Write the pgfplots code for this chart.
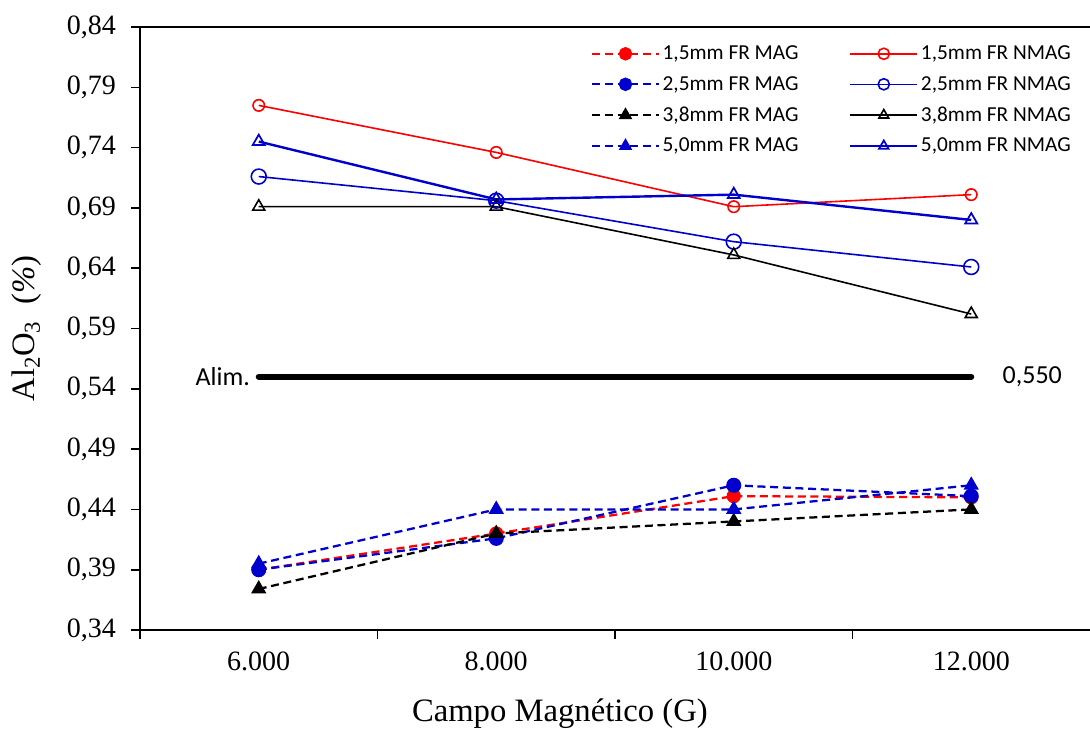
\documentclass[border=0pt]{standalone}
\usepackage{fontspec}
\setmainfont{Liberation Serif}
\newfontfamily\calfont{Carlito}
\usepackage{pgfplots}
\pgfplotsset{compat=1.18}
\definecolor{mblue}{RGB}{0,0,205}
\definecolor{mred}{RGB}{255,0,0}
\begin{document}
\begin{tikzpicture}[x=1pt,y=1pt]
\begin{axis}[
  at={(0,0)}, anchor=south west,
  scale only axis, width=712.5pt, height=452.25pt,
  xmin=-0.5, xmax=3.5, ymin=0.34, ymax=0.84,
  axis lines=left, axis line style={-, line width=1.4pt},
  tick style={line width=1.2pt, black},
  tick align=outside,
  major tick length=6.5pt,
  xtick={-0.5,0.5,1.5,2.5}, xticklabels={},
  extra x ticks={0,1,2,3}, extra x tick labels={6.000,8.000,10.000,12.000},
  extra x tick style={major tick length=0pt},
  ytick={0.34,0.39,0.44,0.49,0.54,0.59,0.64,0.69,0.74,0.79,0.84},
  yticklabel style={xshift=-8pt, /pgf/number format/fixed, /pgf/number format/fixed zerofill, /pgf/number format/precision=2, /pgf/number format/use comma, /pgf/number format/assume math mode=true},
  ticklabel style={font=\fontsize{21}{25}\selectfont},
  xticklabel style={yshift=-13pt},
  xlabel={Campo Magnético (G)},
  ylabel={Al\textsubscript{2}O\textsubscript{3}\ \ (\textit{\%})},
  label style={font=\fontsize{24.5}{29}\selectfont},
  xlabel style={at={(axis description cs:0.442,0)}, anchor=center, yshift=-63pt},
  ylabel style={at={(axis description cs:-0.119,0.5)}, anchor=center},
  clip=false,
  legend columns=2,
  legend style={draw=none, fill=none, at={(rel axis cs:0.987,0.978)}, anchor=north east,
    font=\calfont\fontsize{16}{19}\selectfont, row sep=7pt,
    /tikz/every even column/.append style={column sep=36pt}},
  legend cell align=left,
  legend image code/.code={
    \draw[#1, mark size=4.2pt, mark repeat=2, mark phase=2] plot coordinates {(0pt,0pt) (25pt,0pt) (50pt,0pt)};
  },
]
% 1,5 MAG
\addplot[mred, dash pattern=on 6pt off 3.5pt, line width=1.7pt, mark=*, mark size=4.5pt, mark options={solid, fill=mred}]
  coordinates {(0,0.390) (1,0.420) (2,0.451) (3,0.450)};
\addlegendentry{1,5mm FR MAG}
% 1,5 NMAG
\addplot[mred, line width=1.2pt, mark=o, mark size=4.3pt, mark options={solid, line width=1.2pt}]
  coordinates {(0,0.775) (1,0.736) (2,0.691) (3,0.701)};
\addlegendentry{1,5mm FR NMAG}
% 2,5 MAG
\addplot[mblue, dash pattern=on 6pt off 3.5pt, line width=1.7pt, mark=*, mark size=4.8pt, mark options={solid, fill=mblue}]
  coordinates {(0,0.390) (1,0.416) (2,0.460) (3,0.451)};
\addlegendentry{2,5mm FR MAG}
% 2,5 NMAG
\addplot[mblue, line width=1.2pt, mark=o, mark size=5.6pt, mark options={solid, line width=1.2pt}]
  coordinates {(0,0.716) (1,0.696) (2,0.662) (3,0.641)};
\addlegendentry{2,5mm FR NMAG}
% 3,8 MAG
\addplot[black, dash pattern=on 6pt off 3.5pt, line width=1.7pt, mark=triangle*, mark size=5pt, mark options={solid, fill=black}]
  coordinates {(0,0.374) (1,0.420) (2,0.430) (3,0.440)};
\addlegendentry{3,8mm FR MAG}
% 3,8 NMAG
\addplot[black, line width=1.2pt, mark=triangle, mark size=5.2pt, mark options={solid, line width=1.2pt}]
  coordinates {(0,0.691) (1,0.691) (2,0.651) (3,0.602)};
\addlegendentry{3,8mm FR NMAG}
% 5,0 MAG
\addplot[mblue, dash pattern=on 6pt off 3.5pt, line width=1.7pt, mark=triangle*, mark size=5pt, mark options={solid, fill=mblue}]
  coordinates {(0,0.395) (1,0.440) (2,0.440) (3,0.460)};
\addlegendentry{5,0mm FR MAG}
% 5,0 NMAG
\addplot[mblue, line width=1.8pt, mark=triangle, mark size=5.2pt, mark options={solid, line width=1.3pt}]
  coordinates {(0,0.745) (1,0.697) (2,0.701) (3,0.680)};
\addlegendentry{5,0mm FR NMAG}
% Alim
\addplot[black, line width=4.5pt, line cap=round, forget plot]
  coordinates {(0,0.55) (3,0.55)}
  node[pos=0, anchor=east, xshift=-1pt, font=\calfont\fontsize{19.5}{23}\selectfont] {Alim.}
  node[pos=1, anchor=west, xshift=18pt, font=\calfont\fontsize{19.5}{23}\selectfont] {0,550};
\draw[line width=1.4pt] (rel axis cs:0,1) -- (rel axis cs:1,1);
\end{axis}
\pgfresetboundingbox
\useasboundingbox (-105,-74.25) rectangle (712.5,472.5);
\end{tikzpicture}
\end{document}
